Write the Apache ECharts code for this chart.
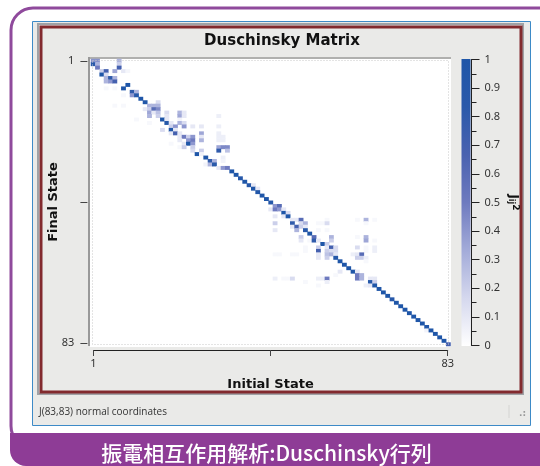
<!DOCTYPE html>
<html>
<head>
<meta charset="utf-8">
<title>Duschinsky Matrix</title>
<style>
html, body { margin: 0; padding: 0; background: #fff; }
#chart { width: 540px; height: 466px; }
</style>
<script src="https://cdn.jsdelivr.net/npm/echarts@6/dist/echarts.min.js"></script>
</head>
<body>
<div id="chart"></div>
<script>
var stateCount = 83;
var colorStops = ["#ffffff", "#d5d8ee", "#a3abd9", "#6e7abf", "#4a62b0", "#2a59aa", "#1f56a8"];
var axisLabels = [1, 83];
var axisTicks = [1, 42, 83];

// [initial state index, final state index, J^2]
var block1 = [
	[0, 0, .42], [1, 0, .42], [6, 0, .3],
	[0, 1, .85], [1, 1, .3], [6, 1, .2],
	[1, 2, .5], [6, 2, .7],
	[2, 3, .2], [3, 3, .7], [5, 3, .35], [7, 3, .1], [8, 3, .04],
	[2, 4, 1], [3, 4, .15],
	[3, 5, .3], [4, 5, .8], [5, 5, .3],
	[3, 6, .3], [4, 6, .4], [5, 6, .7],
	[8, 7, 1],
	[7, 8, 1], [3, 8, .03], [5, 8, .03],
	[9, 9, .8], [10, 9, .3],
	[9, 10, .4], [10, 10, .9], [7, 10, .03],
	[11, 11, 1],
	[12, 12, .95], [15, 12, .15],
	[13, 13, .3], [14, 13, .3], [15, 13, .3], [5, 13, .03], [7, 13, .03],
	[12, 14, .1], [13, 14, .2], [14, 14, .6], [15, 14, .45],
	[13, 15, .35], [14, 15, .1], [15, 15, .25], [17, 15, .15], [20, 15, .3], [21, 15, .1],
	[13, 16, .3], [15, 16, .2], [17, 16, .1], [20, 16, .35], [21, 16, .1], [29, 16, .07],
	[16, 17, 1], [10, 17, .03], [17, 17, .1], [20, 17, .05],
	[17, 18, .9], [13, 18, .03], [18, 18, .1], [20, 18, .3], [21, 18, .15],
	[18, 19, .2], [19, 19, .4], [21, 19, .4], [23, 19, .1], [25, 19, .1], [29, 19, .07],
	[16, 20, .15], [18, 20, .95], [19, 20, .1],
	[18, 21, .1], [19, 21, .7], [20, 21, .1], [25, 21, .35], [29, 21, .07],
	[20, 22, .1], [21, 22, .5], [22, 22, .2], [23, 22, .4], [25, 22, .1], [29, 22, .07], [30, 22, .07],
	[20, 23, .1], [22, 23, .4], [23, 23, .5], [25, 23, .3], [29, 23, .07], [30, 23, .07],
	[18, 24, .03], [21, 24, .1], [22, 24, 1], [23, 24, .4],
	[20, 25, .03], [21, 25, .2], [23, 25, .2], [29, 25, .35], [30, 25, .45], [31, 25, .45],
	[23, 26, .15], [25, 26, .2], [29, 26, .8], [31, 26, .25],
	[24, 27, 1], [25, 27, .05],
	[26, 28, 1], [30, 28, .07],
	[27, 29, .8], [28, 29, .3], [30, 29, .05],
	[26, 30, .05], [27, 30, .3], [28, 30, .85],
	[29, 31, .1], [30, 31, .4], [31, 31, .5]
];
var block2 = [
	[32, 32, 1], [33, 33, 1], [34, 34, .9], [35, 35, 1],
	[36, 36, .9], [37, 36, .1], [37, 37, 1], [38, 37, .1],
	[38, 38, .95], [39, 39, 1], [40, 40, 1], [41, 41, .9],
	[42, 42, .4], [43, 42, .6],
	[41, 43, .1], [42, 43, .5], [43, 43, .4], [44, 43, .1],
	[44, 44, 1], [45, 44, .15],
	[42, 45, .1], [44, 45, .1], [45, 45, 1],
	[46, 46, .1], [47, 46, .1], [48, 46, .6], [54, 46, .03], [61, 46, .03], [63, 46, .3], [65, 46, .03],
	[42, 47, .2], [46, 47, .8], [48, 47, .15], [49, 47, .3], [52, 47, .03], [53, 47, .03], [54, 47, .15], [63, 47, .03],
	[46, 48, .1], [47, 48, .7], [48, 48, .2], [49, 48, .1],
	[42, 49, .1], [47, 49, .3], [49, 49, .85], [52, 49, .03], [54, 49, .03],
	[50, 50, 1],
	[48, 51, .2], [51, 51, .6], [55, 51, .3], [61, 51, .03], [63, 51, .3],
	[48, 52, .1], [50, 52, .03], [51, 52, .8], [52, 52, .1], [55, 52, .2], [63, 52, .35], [65, 52, .03],
	[53, 53, 1], [54, 53, .2],
	[49, 54, .03], [52, 54, .2], [54, 54, .1], [55, 54, .7], [56, 54, .15], [61, 54, .15], [63, 54, .03], [65, 54, .07],
	[49, 55, .03], [52, 55, .7], [54, 55, .2], [55, 55, .15], [56, 55, .15], [63, 55, .03], [65, 55, .07],
	[42, 56, .03], [43, 56, .03], [46, 56, .03], [47, 56, .03], [52, 56, .1], [54, 56, .25], [55, 56, .3], [56, 56, .1], [60, 56, .07], [61, 56, .1], [62, 56, .6],
	[52, 57, .1], [54, 57, .2], [56, 57, .9], [61, 57, .2], [62, 57, .2], [63, 57, .07],
	[57, 58, 1], [63, 58, .03],
	[58, 59, 1], [59, 60, 1],
	[57, 61, .1], [60, 61, 1], [61, 61, .1],
	[56, 62, .03], [61, 62, .5], [62, 62, .3],
	[42, 63, .07], [44, 63, .03], [45, 63, .03], [46, 63, .15], [52, 63, .07], [53, 63, .07], [54, 63, .5], [61, 63, .5], [62, 63, .3], [64, 63, .1], [65, 63, .1],
	[49, 64, .03], [54, 64, .07], [64, 64, .9], [65, 64, .2],
	[52, 65, .03], [63, 65, .07], [64, 65, .1], [65, 65, 1],
	[66, 66, 1], [67, 67, 1], [68, 68, 1], [69, 69, .9], [70, 70, 1],
	[71, 71, 1], [72, 72, 1], [73, 73, 1], [74, 74, 1], [75, 75, 1],
	[76, 76, 1], [77, 77, .95], [77, 78, .05], [78, 78, 1], [79, 79, 1],
	[80, 80, 1], [81, 81, 1], [82, 82, .7]
];
var couplings = block1.concat(block2);

var stateNames = [];
for (var i = 1; i <= stateCount; i++) {
	stateNames.push(String(i));
}

var uiFont = "'DejaVu Sans',Verdana,sans-serif";
var tickFont = "'Noto Sans',sans-serif";

// colour bar runs the visualMap stops from 1 (top) down to 0
var barStops = colorStops.map(function (c, idx) {
	return {offset: 1 - idx / (colorStops.length - 1), color: c};
});

var chrome = [
	// page frame and purple caption band
	{type: "rect", shape: {x: 11, y: 8, width: 560, height: 440, r: 22}, style: {fill: "#fff", stroke: "#8f4a9c", lineWidth: 3}},
	{type: "rect", shape: {x: 10, y: 433, width: 560, height: 33, r: [0, 0, 0, 16]}, style: {fill: "#8e3c96"}},
	{type: "text", x: 266.5, y: 453, style: {text: "振電相互作用解析:Duschinsky行列", fill: "#fff", font: "500 21px 'Noto Sans CJK JP'", textAlign: "center", textVerticalAlign: "middle"}},
	// window
	{type: "rect", shape: {x: 32.5, y: 21.5, width: 498, height: 404}, style: {fill: "#eaeae8", stroke: "#3d8ac7", lineWidth: 1}},
	{type: "rect", shape: {x: 38, y: 24, width: 485, height: 370}, style: {fill: "none", stroke: "#a0a2a6", lineWidth: 2}},
	{type: "rect", shape: {x: 41, y: 27, width: 480, height: 365}, style: {fill: "none", stroke: "#822a2e", lineWidth: 3}},
	{type: "text", x: 39, y: 412, style: {text: "J(83,83) normal coordinates", fill: "#333", font: "10px 'Open Sans'", textVerticalAlign: "middle"}},
	{type: "line", shape: {x1: 509, y1: 405, x2: 509, y2: 418}, style: {stroke: "#d4d4d2", lineWidth: 1}},
	{type: "text", x: 519, y: 414, style: {text: ".:", fill: "#999", font: "bold 9px 'DejaVu Sans'", textVerticalAlign: "middle"}},
	// plot frame
	{type: "line", shape: {x1: 88, y1: 58, x2: 451, y2: 58}, style: {stroke: "#b0b0ae", lineWidth: 2}},
	{type: "line", shape: {x1: 89, y1: 57, x2: 89, y2: 346}, style: {stroke: "#999", lineWidth: 2}},
	{type: "rect", z: 1, shape: {x: 90, y: 59, width: 361, height: 288}, style: {fill: "#fff"}},
	{type: "rect", z: 3, shape: {x: 92.5, y: 60.5, width: 356, height: 284}, style: {fill: "none", stroke: "#c8c8c8", lineWidth: 1, lineDash: [1, 2]}},
	// colour bar
	{
		type: "rect",
		shape: {x: 461.5, y: 59, width: 9, height: 287},
		style: {fill: new echarts.graphic.LinearGradient(0, 0, 0, 1, barStops)}
	}
];

var chart = echarts.init(document.getElementById("chart"), null, {renderer: "canvas"});

chart.setOption({
	animation: false,
	textStyle: {
		fontFamily: uiFont
	},
	title: {
		text: "Duschinsky Matrix",
		left: 277,
		top: 29,
		textAlign: "center",
		textStyle: {
			fontSize: 15,
			fontWeight: "bold",
			color: "#111",
			fontFamily: uiFont
		}
	},
	graphic: {
		elements: chrome
	},
	grid: [
		{left: 91, top: 59, width: 359.5, height: 287},
		{left: 93.4, top: 61, width: 354.3, height: 282},
		{left: 471.5, top: 59.5, width: 1, height: 286}
	],
	xAxis: [
		{
			type: "category",
			gridIndex: 0,
			data: stateNames,
			show: false
		},
		{
			type: "value",
			gridIndex: 1,
			min: 1,
			max: 83,
			offset: 7,
			name: "Initial State",
			nameLocation: "middle",
			nameGap: 28,
			nameTextStyle: {
				fontSize: 13,
				fontWeight: "bold",
				color: "#111"
			},
			axisLine: {
				show: true,
				lineStyle: {color: "#222", width: 1}
			},
			axisTick: {
				show: true,
				length: 6,
				lineStyle: {color: "#444", width: 1},
				customValues: axisTicks
			},
			axisLabel: {
				fontSize: 11,
				fontFamily: tickFont,
				color: "#333",
				margin: 8,
				customValues: axisLabels
			},
			splitLine: {show: false}
		},
		{
			type: "value",
			gridIndex: 2,
			show: false
		}
	],
	yAxis: [
		{
			type: "category",
			gridIndex: 0,
			data: stateNames,
			inverse: true,
			show: false
		},
		{
			type: "value",
			gridIndex: 1,
			min: 1,
			max: 83,
			inverse: true,
			offset: 6,
			name: "Final State",
			nameLocation: "middle",
			nameRotate: 90,
			nameGap: 27,
			nameMoveOverlap: false,
			nameTextStyle: {
				fontSize: 13,
				fontWeight: "bold",
				color: "#111"
			},
			axisLine: {
				show: false
			},
			axisTick: {
				show: true,
				length: 7,
				lineStyle: {color: "#444", width: 1},
				customValues: axisTicks
			},
			axisLabel: {
				fontSize: 11,
				fontFamily: tickFont,
				color: "#333",
				margin: 13,
				customValues: axisLabels
			},
			splitLine: {show: false}
		},
		{
			type: "value",
			gridIndex: 2,
			position: "right",
			min: 0,
			max: 1,
			interval: 0.1,
			name: "{j|J}{ij|ij}{sq|2}",
			nameLocation: "middle",
			nameRotate: -90,
			nameGap: 35,
			nameTextStyle: {
				rich: {
					j: {fontSize: 12, fontWeight: "bold", color: "#111"},
					ij: {fontSize: 8, fontWeight: "bold", color: "#111", verticalAlign: "bottom"},
					sq: {fontSize: 9, fontWeight: "bold", color: "#111", verticalAlign: "top"}
				}
			},
			axisLine: {
				show: true,
				lineStyle: {color: "#222", width: 1}
			},
			axisTick: {
				show: true,
				length: 8,
				lineStyle: {color: "#222", width: 1}
			},
			minorTick: {
				show: true,
				splitNumber: 2,
				length: 5,
				lineStyle: {color: "#222", width: 1}
			},
			axisLabel: {
				fontSize: 11,
				fontFamily: tickFont,
				color: "#333",
				margin: 12,
				formatter: function (v) {
					return String(Math.round(v * 10) / 10);
				}
			},
			splitLine: {show: false}
		}
	],
	visualMap: {
		type: "continuous",
		show: false,
		seriesIndex: 0,
		min: 0,
		max: 1,
		inRange: {
			color: colorStops
		}
	},
	series: [{
		type: "heatmap",
		xAxisIndex: 0,
		yAxisIndex: 0,
		data: couplings,
		progressive: 0,
		itemStyle: {
			borderWidth: 0
		},
		emphasis: {
			disabled: true
		}
	}]
});
</script>
</body>
</html>
